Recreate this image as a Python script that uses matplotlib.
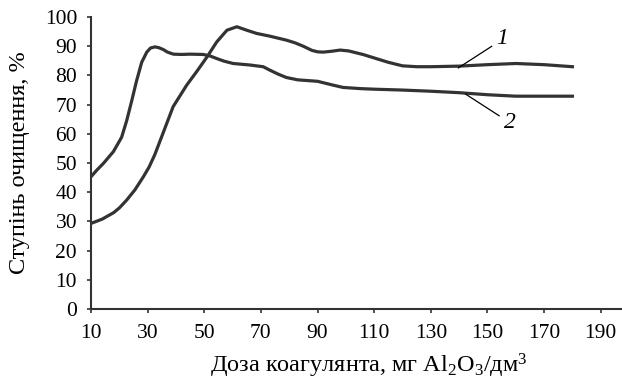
import matplotlib
matplotlib.use("Agg")
import matplotlib.pyplot as plt

# Values (curve 1 and curve 2)
dose_1 = [10, 14, 18, 20, 22.6, 25.5, 28.5, 30.5, 32.5, 35.5, 39, 43.8, 47.3, 51, 54.4,
          58, 61.5, 65, 68.5, 73, 79, 82, 85, 88, 90, 92, 95, 98, 101, 106, 110, 115,
          120, 125, 130, 140, 150, 160, 170, 180]
clean_1 = [29.3, 30.8, 33.0, 34.6, 37.3, 40.8, 45.3, 48.6, 52.8, 60.4, 69.3, 76.7, 81.3,
           86.4, 91.5, 95.5, 96.7, 95.5, 94.4, 93.5, 92.1, 91.2, 90.0, 88.6, 88.1, 88.0,
           88.3, 88.7, 88.4, 87.2, 86.0, 84.5, 83.3, 83.0, 83.0, 83.2, 83.7, 84.1, 83.7,
           83.0]

dose_2 = [10, 12, 14.4, 17.9, 20.8, 22.6, 24.4, 26.1, 27.9, 29.7, 31, 32.6, 34, 35.5, 37,
          39.1, 42, 45, 49.6, 52, 54.4, 57, 60.2, 66, 70.8, 73.2, 76, 79, 83, 90, 95, 99,
          105, 110, 120, 130, 140, 150, 160, 170, 180]
clean_2 = [45.3, 47.5, 49.9, 53.9, 58.8, 64.5, 71.4, 78.2, 84.5, 88.0, 89.4, 89.8, 89.5,
           88.9, 88.0, 87.3, 87.2, 87.3, 87.2, 86.7, 85.8, 84.9, 84.1, 83.6, 83.0, 81.8,
           80.5, 79.3, 78.5, 78.0, 76.8, 75.9, 75.5, 75.3, 75.0, 74.6, 74.1, 73.4, 72.9,
           72.9, 72.9]

x_ticks = [10, 30, 50, 70, 90, 110, 130, 150, 170, 190]
y_ticks = [0, 10, 20, 30, 40, 50, 60, 70, 80, 90, 100]

plt.rcParams["font.family"] = ["Liberation Serif", "DejaVu Serif"]
plt.rcParams["mathtext.fontset"] = "custom"
plt.rcParams["mathtext.rm"] = "Liberation Serif"
plt.rcParams["mathtext.it"] = "Liberation Serif:italic"

fig = plt.figure(figsize=(6.22, 3.8), dpi=100)
ax = fig.add_axes([0.1463, 0.187, 0.8537, 0.768])

line_color = "#333333"
ax.plot(dose_1, clean_1, color=line_color, linewidth=2.3, solid_joinstyle="round")
ax.plot(dose_2, clean_2, color=line_color, linewidth=2.3, solid_joinstyle="round")

# curve labels with leader lines
ax.plot([139.7, 151.5], [82.6, 90.0], color="black", linewidth=0.9)
ax.text(155, 92.7, "1", fontsize=17, style="italic", ha="center", va="center")
ax.plot([142.3, 154.1], [73.6, 66.2], color="black", linewidth=0.9)
ax.text(158.1, 63.9, "2", fontsize=17, style="italic", ha="center", va="center")

ax.set_xlim(10, 197.5)
ax.set_ylim(0, 100)
ax.set_xticks(x_ticks)
ax.set_yticks(y_ticks)
ax.tick_params(axis="both", labelsize=15.5, direction="out", length=3, width=1.2,
               color="#333333")
ax.tick_params(axis="y", pad=7)
ax.tick_params(axis="x", pad=8)
for side in ["top", "right"]:
    ax.spines[side].set_visible(False)
for side in ["left", "bottom"]:
    ax.spines[side].set_linewidth(1.5)
    ax.spines[side].set_color("#333333")

fig.text(20 / 622, 1 - 163 / 380, "Ступінь очищення, %", fontsize=17.5,
         rotation=90, ha="center", va="center")
fig.text(369 / 622, 1 - 373 / 380, "Доза коагулянта, мг Al$_2$O$_3$/дм$^3$",
         fontsize=17.5, ha="center", va="baseline")

fig.savefig("out.png", dpi=100)
